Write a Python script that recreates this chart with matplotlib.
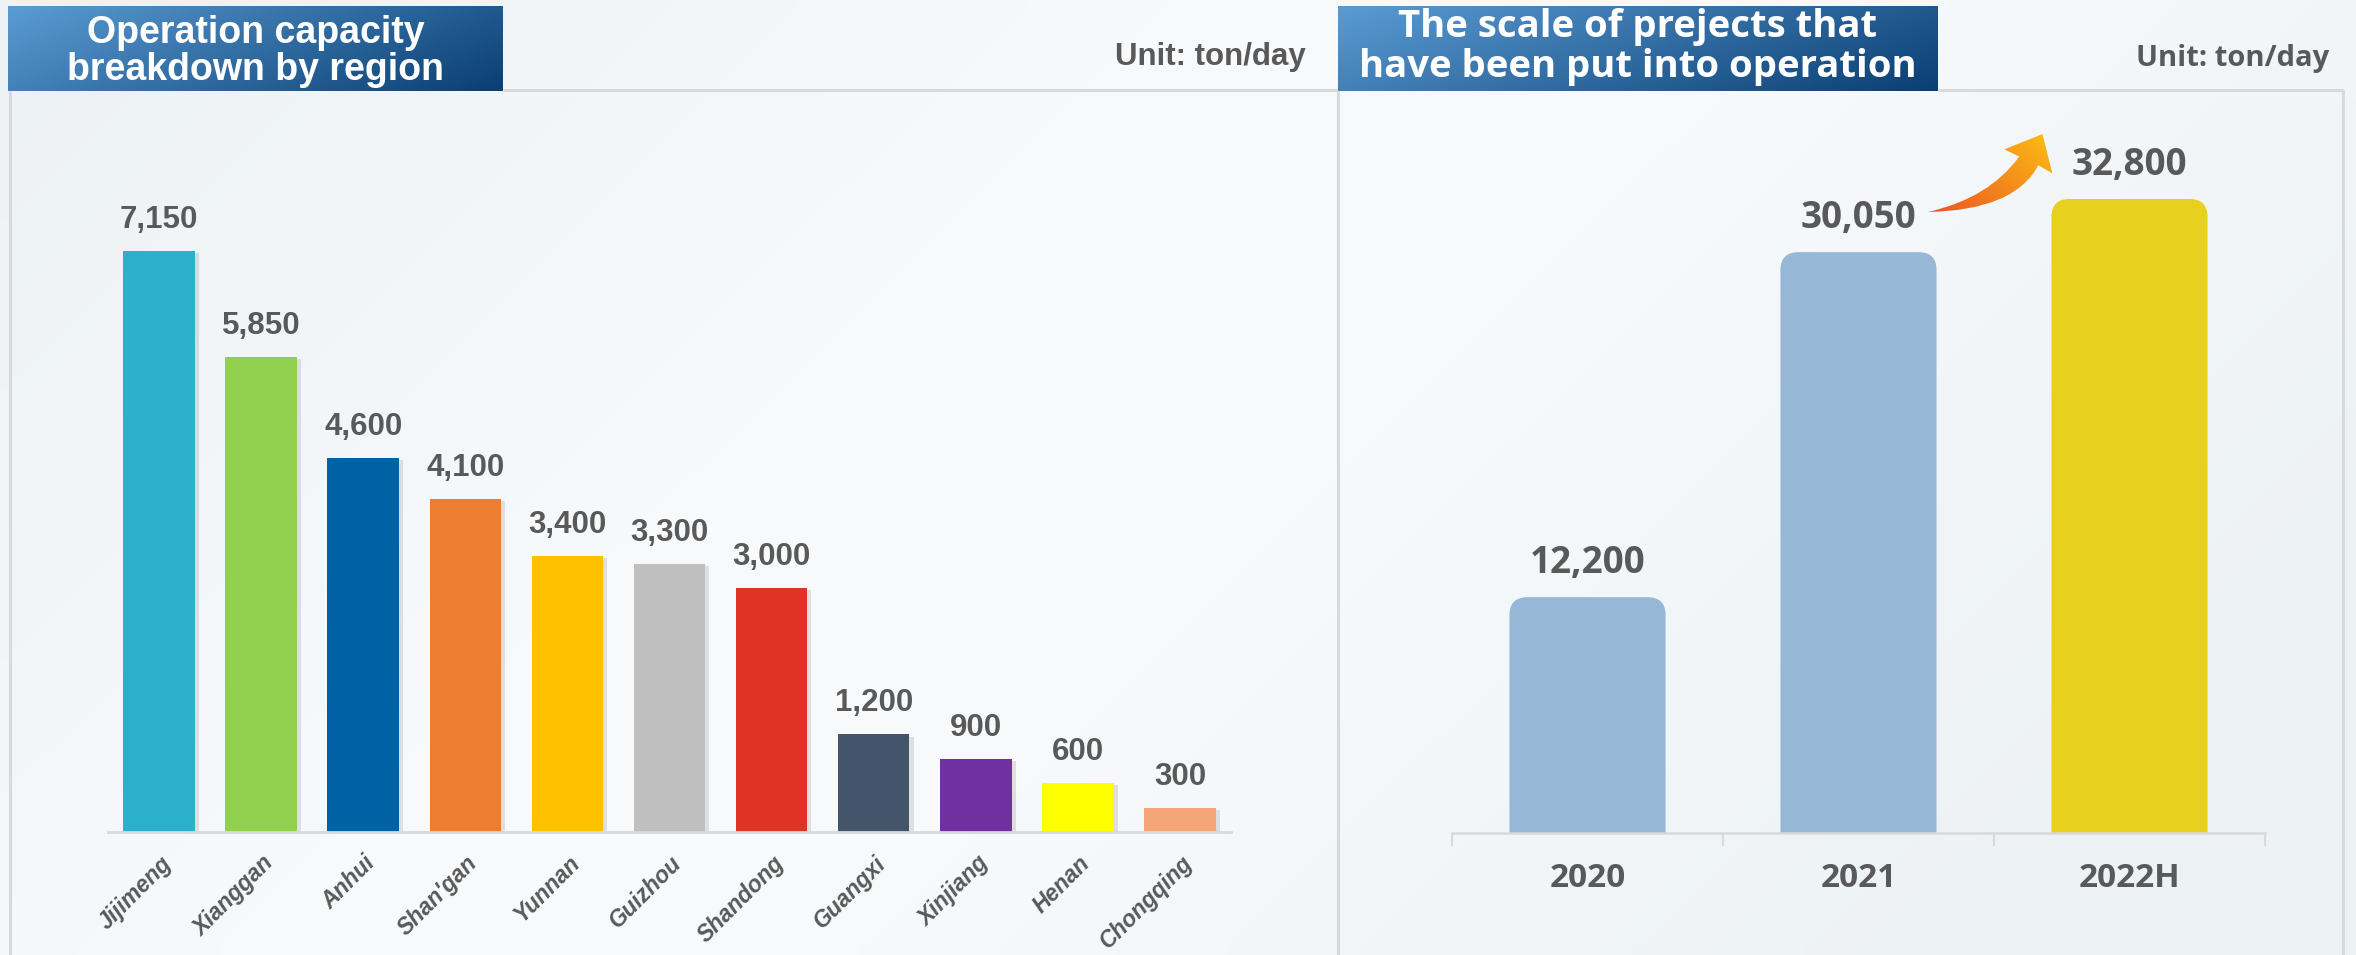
import numpy as np
import matplotlib
matplotlib.use("Agg")
import matplotlib.pyplot as plt
from matplotlib.patches import FancyBboxPatch, PathPatch
from matplotlib.path import Path
from matplotlib.colors import to_rgb
import matplotlib.patheffects as pe
import matplotlib.transforms as mtransforms

W, H, DPI = 2356, 955, 100

# ---- data -------------------------------------------------------------
regions = ["Jijimeng", "Xianggan", "Anhui", "Shan'gan", "Yunnan", "Guizhou",
           "Shandong", "Guangxi", "Xinjiang", "Henan", "Chongqing"]
region_capacity = [7150, 5850, 4600, 4100, 3400, 3300, 3000, 1200, 900, 600, 300]
region_colors = ["#2BB1CA", "#92D050", "#0062A4", "#ED7D31", "#FFC000", "#BFBFBF",
                 "#E03226", "#44546A", "#7030A0", "#FFFF00", "#F4A679"]

years = ["2020", "2021", "2022H"]
operating_scale = [12200, 30050, 32800]
year_colors = ["#97B7D6", "#97B7D6", "#E8D01E"]

left_title = ["Operation capacity", "breakdown by region"]
right_title = ["The scale of prejects that", "have been put into operation"]
unit_label = "Unit: ton/day"

TEXT_GREY = "#595959"
BORDER = "#D9D9D9"
SANS_L = "Liberation Sans"
SANS_R = "Open Sans"

fig = plt.figure(figsize=(W / DPI, H / DPI), dpi=DPI)
fig.patch.set_facecolor("#F3F7F9")

# ---- canvas layer in pixel units (y down) ----------------------------
bg = fig.add_axes([0, 0, 1, 1], zorder=0)
bg.set_xlim(0, W)
bg.set_ylim(H, 0)
bg.axis("off")


def lerp_img(c0, c1, k):
    a, b = np.array(to_rgb(c0)), np.array(to_rgb(c1))
    return a + (b - a) * k[..., None]


gy, gx = np.mgrid[0:1:60j, 0:1:150j]
t = (gx * W + gy * H) / (W + H)
bg.imshow(lerp_img("#EDF2F5", "#F8FAFC", 0.5 + 0.5 * np.cos(2 * np.pi * (t - 0.45))),
          extent=(0, W, H, 0), aspect="auto", interpolation="bilinear", zorder=0)


def title_box(x0, x1, y0, y1, lines, baselines, family, size):
    gy, gx = np.mgrid[0:1:20j, 0:1:80j]
    k = np.clip(0.72 * gx + 0.28 * gy, 0, 1)
    bg.imshow(lerp_img("#5A9BD3", "#0A3F73", k), extent=(x0, x1, y1, y0),
              aspect="auto", interpolation="bilinear", zorder=2)
    for line, yb in zip(lines, baselines):
        bg.text((x0 + x1) / 2, yb, line, color="white", fontsize=size,
                fontweight="bold", family=family, ha="center", va="baseline", zorder=3)


title_box(8, 503, 6, 91, left_title, [43, 80], SANS_L, 27)
title_box(1338, 1938, 6, 91, right_title, [37, 77], SANS_R, 27.5)

bg.text(1306, 65, unit_label, color=TEXT_GREY, fontsize=22.5, fontweight="bold",
        family=SANS_L, ha="right", va="baseline", zorder=3)
bg.text(2329, 66, unit_label, color=TEXT_GREY, fontsize=21, fontweight="bold",
        family=SANS_R, ha="right", va="baseline", zorder=3)

# panel frames
lw_frame = 2.2
for xs, ys in [([10, 10], [91, H]), ([503, 1338], [90.5, 90.5]), ([1338, 1338], [90.5, H]),
               ([1938, 2343], [90.5, 90.5]), ([2343, 2343], [90.5, H])]:
    bg.plot(xs, ys, color=BORDER, lw=lw_frame, solid_capstyle="butt", zorder=1)

# ---- growth arrow ------------------------------------------------------
def arrow_path(tx, ty, s):
    pts = np.array([
        (1830.0, 274.3), (1915.0, 255.0), (1956.7, 197.3),
        (1936.0, 187.3), (1989.0, 166.0), (2002.7, 220.7), (1983.3, 209.3),
        (1950.0, 272.0), (1830.0, 274.3), (1830.0, 274.3)])
    pts = np.column_stack([tx + s * (pts[:, 0] - 1830.0), ty + s * (pts[:, 1] - 274.3)])
    codes = [Path.MOVETO, Path.CURVE3, Path.CURVE3, Path.LINETO, Path.LINETO,
             Path.LINETO, Path.LINETO, Path.CURVE3, Path.CURVE3, Path.CLOSEPOLY]
    return Path(pts, codes)


apath = arrow_path(1928, 212, 0.72)
apatch = PathPatch(apath, fc="none", ec="none", zorder=3)
bg.add_patch(apatch)
ext = apath.get_extents()
gy, gx = np.mgrid[0:1:40j, 0:1:60j]
k = np.clip(0.6 * gx + 0.4 * (1 - gy), 0, 1)
im = bg.imshow(lerp_img("#EC5524", "#FBBE14", k), extent=(ext.x0, ext.x1, ext.y1, ext.y0),
               aspect="auto", interpolation="bilinear", zorder=3)
im.set_clip_path(apatch)

# ---- left chart: capacity by region ----------------------------------
px_per_t = 581.0 / 7150.0
ymax1 = 9000
ax1 = fig.add_axes([108 / W, (H - 832) / H, 1123 / W, ymax1 * px_per_t / H], zorder=2)
ax1.patch.set_visible(False)
x1 = np.arange(len(regions))
bars1 = ax1.bar(x1, region_capacity, width=0.70, color=region_colors, zorder=2)
for b in bars1:
    b.set_path_effects([pe.SimplePatchShadow(offset=(3, -1.5), shadow_rgbFace="k", alpha=0.10),
                        pe.Normal()])
for xi, v in zip(x1, region_capacity):
    ax1.annotate(f"{v:,}", (xi, v), xytext=(0, 23), textcoords="offset pixels",
                 ha="center", va="baseline", fontsize=22.5, fontweight="bold",
                 color=TEXT_GREY, family=SANS_L)
ax1.set_xlim(-0.5, len(regions) - 0.5)
ax1.set_ylim(0, ymax1)
ax1.set_yticks([])
ax1.set_xticks(x1, regions)
ax1.tick_params(axis="x", length=0, pad=20)
shift = mtransforms.ScaledTranslation(9 / DPI, 0, fig.dpi_scale_trans)
for lab in ax1.get_xticklabels():
    lab.set_rotation(45)
    lab.set_ha("right")
    lab.set_va("center")
    lab.set_rotation_mode("anchor")
    lab.set_fontsize(16.5)
    lab.set_fontweight("bold")
    lab.set_fontstyle("italic")
    lab.set_family(SANS_L)
    lab.set_color(TEXT_GREY)
    lab.set_transform(lab.get_transform() + shift)
for side in ["left", "right", "top"]:
    ax1.spines[side].set_visible(False)
ax1.spines["bottom"].set_color(BORDER)
ax1.spines["bottom"].set_linewidth(2.0)

# ---- right chart: operating scale by year ----------------------------
px_per_t2 = 634.0 / 32800.0
ymax2 = 38000
ax2 = fig.add_axes([1452 / W, (H - 833) / H, 813 / W, ymax2 * px_per_t2 / H], zorder=2)
ax2.patch.set_visible(False)
x2 = np.arange(len(years))
bars2 = ax2.bar(x2, operating_scale, width=0.576, color=year_colors, zorder=2)
ax2.set_xlim(-0.5, len(years) - 0.5)
ax2.set_ylim(0, ymax2)

# rounded tops on the yearly bars
p0 = ax2.transData.transform((0, 0))
p1 = ax2.transData.transform((1, 1))
ppx, ppy = p1[0] - p0[0], p1[1] - p0[1]
radius = 18.0 / ppx
for b in bars2:
    drop = 40.0 / ppy
    rp = FancyBboxPatch((b.get_x(), -drop), b.get_width(), b.get_height() + drop,
                        boxstyle=f"round,pad=0,rounding_size={radius}",
                        mutation_aspect=ppx / ppy, fc=b.get_facecolor(), ec="none", zorder=2)
    ax2.add_patch(rp)
    b.set_visible(False)

for xi, v in zip(x2, operating_scale):
    ax2.annotate(f"{v:,}", (xi, v), xytext=(0, 24), textcoords="offset pixels",
                 ha="center", va="baseline", fontsize=26.5, fontweight="bold",
                 color=TEXT_GREY, family=SANS_R)

ax2.set_yticks([])
ax2.set_xticks(x2, years)
ax2.set_xticks(np.arange(-0.5, len(years)), minor=True)
ax2.tick_params(axis="x", which="major", length=0, pad=54 * 0.72)
ax2.tick_params(axis="x", which="minor", length=13 * 0.72, width=1.5, color=BORDER,
                direction="out")
for lab in ax2.get_xticklabels():
    lab.set_va("baseline")
    lab.set_fontsize(24)
    lab.set_fontweight("bold")
    lab.set_family(SANS_R)
    lab.set_color(TEXT_GREY)
for side in ["left", "right", "top"]:
    ax2.spines[side].set_visible(False)
ax2.spines["bottom"].set_color(BORDER)
ax2.spines["bottom"].set_linewidth(1.8)

fig.savefig("out.png", dpi=DPI, facecolor=fig.get_facecolor())
